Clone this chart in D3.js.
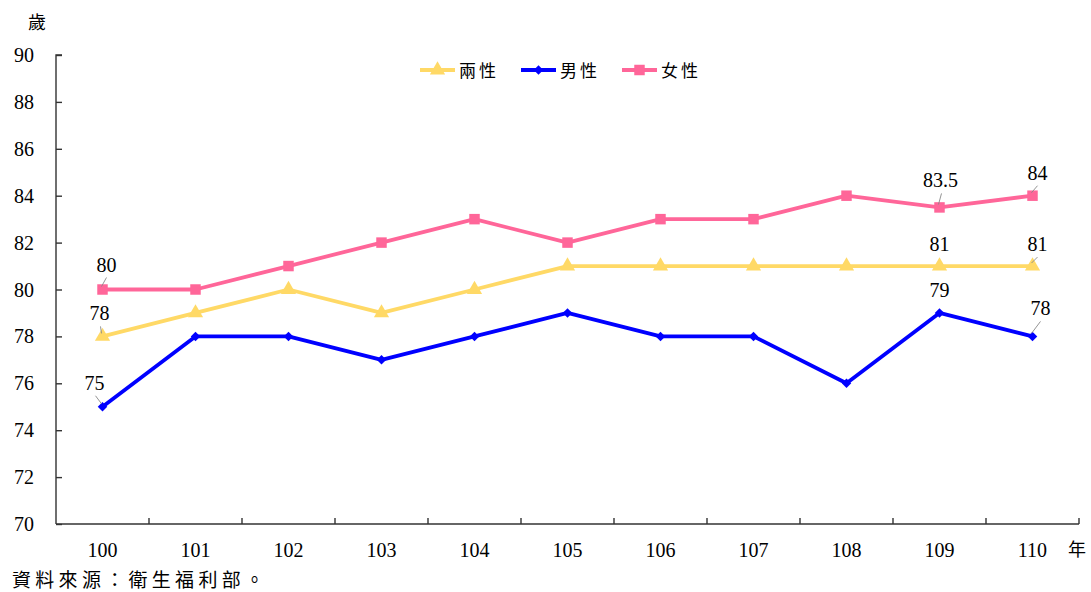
<!DOCTYPE html>
<html><head><meta charset="utf-8">
<script src="https://cdn.jsdelivr.net/npm/d3@7"></script>
<style>body{margin:0;background:#fff}
.num{font-family:"Liberation Serif","Times New Roman",Times,serif}
.cjk{font-family:"Noto Sans CJK TC","Noto Sans CJK SC",sans-serif}
</style>
</head><body>
<svg id="c" width="1091" height="592"></svg>
<script>
const years = ["100","101","102","103","104","105","106","107","108","109","110"];
const both = [78,79,80,79,80,81,81,81,81,81,81];
const male = [75,78,78,77,78,79,78,78,76,79,78];
const female = [80,80,81,82,83,82,83,83,84,83.5,84];
const yTicks = [70,72,74,76,78,80,82,84,86,88,90];
const seriesNames = ["兩性","男性","女性"];
const yUnit = "歲", xUnit = "年", source = "資料來源：衛生福利部。";

// label layout: [seriesIndex, pointIndex, dx, dy, leader]
const labelLayout = [
  [2,0,4,-18,true],[2,9,1,-20,true],[2,10,5,-16,true],
  [0,0,-3,-16,true],[0,9,0,-15,false],[0,10,5,-15,true],
  [1,0,-8,-17,true],[1,9,0,-16,false],[1,10,8,-21,true]
];

const svg = d3.select("#c");
const L=56, R=1079, T=55, B=524;
const x = d3.scaleBand().domain(years).range([L,R]);
const y = d3.scaleLinear().domain([70,90]).range([B,T]);

// axes
const yAx = svg.append("g").attr("transform",`translate(${L},0)`)
  .call(d3.axisRight(y).tickValues(yTicks).tickSize(6).tickFormat(""));
yAx.select(".domain").attr("d",`M6,${T}H0V${B}`);
yAx.selectAll("line,path").attr("stroke","#333").attr("stroke-width",1.4);
svg.append("g").selectAll("text").data(yTicks).join("text").attr("class","num")
  .attr("x",34).attr("y",d=>y(d)+7).attr("text-anchor","end")
  .attr("font-size",20).text(d=>d);

const bounds = years.map(d=>x(d)).concat([R]);
svg.append("line").attr("x1",L).attr("x2",R).attr("y1",B).attr("y2",B).attr("stroke","#333").attr("stroke-width",1.4);
svg.append("g").selectAll("line").data(bounds.slice(1)).join("line")
  .attr("x1",d=>d).attr("x2",d=>d).attr("y1",B).attr("y2",B-6).attr("stroke","#333").attr("stroke-width",1.4);
svg.append("g").selectAll("text").data(years).join("text").attr("class","num")
  .attr("x",d=>x(d)+x.bandwidth()/2).attr("y",557).attr("text-anchor","middle")
  .attr("font-size",20).text(d=>d);

svg.append("text").attr("class","cjk").attr("x",37).attr("y",29).attr("text-anchor","middle").attr("font-size",18).text(yUnit);
svg.append("text").attr("class","cjk").attr("x",1077).attr("y",556).attr("text-anchor","middle").attr("font-size",18).text(xUnit);
svg.append("text").attr("class","cjk").attr("x",12).attr("y",587).attr("font-size",19).attr("letter-spacing",4.3).text(source);

// series
const colors = ["#FFD966","#0000FF","#FF6699"];
const data = [both,male,female];
const shapes = [d3.symbolTriangle,d3.symbolSquare,d3.symbolSquare];
const rot = [0,45,0];
const sizes = [100,45,110];
const cx = i=>x(years[i])+x.bandwidth()/2;
const line = d3.line().x((d,i)=>cx(i)).y(d=>y(d));
data.forEach((vals,s)=>{
  svg.append("path").attr("d",line(vals)).attr("fill","none").attr("stroke",colors[s]).attr("stroke-width",3.8).attr("stroke-linejoin","round");
  svg.append("g").selectAll("path").data(vals).join("path")
    .attr("transform",(d,i)=>`translate(${cx(i)},${y(d)}) rotate(${rot[s]})`)
    .attr("d",d3.symbol().type(shapes[s]).size(sizes[s])).attr("fill",colors[s]);
});

// labels
labelLayout.forEach(([s,i,dx,dy,lead])=>{
  const v = data[s][i], px=cx(i), py=y(v);
  const tx = px+dx, ty = py+dy;
  svg.append("text").attr("class","num").attr("x",tx).attr("y",ty).attr("text-anchor","middle")
    .attr("font-size",20).text(v);
  if(lead){
    svg.append("line").attr("x1",tx+(dx>2?0:1)).attr("y1",ty+6).attr("x2",px-1).attr("y2",py-3)
      .attr("stroke","#888").attr("stroke-width",0.9);
  }
});

// legend
const lg = svg.append("g");
[420,521,622].forEach((lx,s)=>{
  lg.append("line").attr("x1",lx).attr("x2",lx+35).attr("y1",70).attr("y2",70).attr("stroke",colors[s]).attr("stroke-width",3.8);
  lg.append("path").attr("transform",`translate(${lx+17.5},70) rotate(${rot[s]})`).attr("d",d3.symbol().type(shapes[s]).size(sizes[s])).attr("fill",colors[s]);
  lg.append("text").attr("class","cjk").attr("x",lx+39).attr("y",76.5).attr("font-size",17).attr("letter-spacing",3).text(seriesNames[s]);
});
</script>
</body></html>
